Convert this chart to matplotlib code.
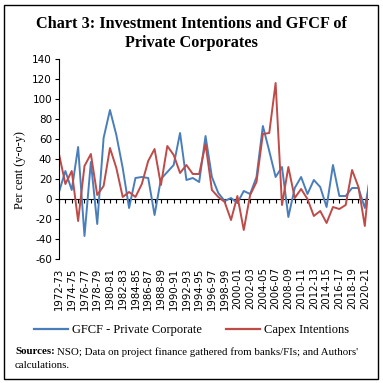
import matplotlib
matplotlib.use('Agg')
import matplotlib.pyplot as plt
from matplotlib.patches import Rectangle
from matplotlib.lines import Line2D

# Data (per cent, y-o-y), 1972-73 to 2021-22
years = [f"{y}-{str(y + 1)[-2:]}" for y in range(1972, 2022)]
gfcf = [7, 28, 9, 52, -37, 37, -25, 61, 89, 64, 31, -9, 21, 22, 21, -16, 20, 27, 34, 66,
        19, 21, 17, 63, 22, 6, -2, 1, -4, 8, 5, 22, 73, 48, 22, 32, -18, 11, 22, 5,
        19, 12, -8, 34, 3, 3, 11, 11, -9, 27]
capex = [45, 15, 28, -22, 33, 45, 4, 13, 51, 31, 2, 7, 2, 15, 38, 50, 14, 53, 44, 26,
         34, 25, 25, 55, 9, 2, -3, -21, 3, -31, 4, 17, 65, 66, 116, -6, 32, 1, 10, 0,
         -17, -12, -24, -8, -10, -6, 29, 12, -27, 39]
yticks = list(range(-60, 141, 20))

blue = '#4a7ebb'
red = '#be4b48'
serif = 'Liberation Serif'

fig = plt.figure(figsize=(3.83, 3.83), dpi=100)
ax = fig.add_axes([59 / 383, 1 - 259 / 383, (368 - 59) / 383, 200 / 383])

x = list(range(len(years)))
ax.plot(x, gfcf, color=blue, lw=1.4, label='GFCF - Private Corporate')
ax.plot(x, capex, color=red, lw=1.4, label='Capex Intentions')

ax.set_xlim(0, 48.5)
ax.set_ylim(-60, 140)
ax.set_yticks(yticks)
ax.set_yticklabels([str(v) for v in yticks], fontsize=7.5, family='DejaVu Sans')
ax.tick_params(axis='y', direction='out', length=3, width=0.8, pad=2)

# x labels at the bottom, every other year
ax.set_xticks(x[::2])
ax.set_xticklabels(years[::2], rotation=90, fontsize=7.3, family='DejaVu Sans')
ax.tick_params(axis='x', length=0, pad=6)

for s in ['top', 'right', 'bottom']:
    ax.spines[s].set_visible(False)
ax.spines['left'].set_linewidth(0.8)

# axis line at zero with tick marks
sec = ax.secondary_xaxis(60 / 200)
sec.set_xticks(x[:49])
sec.set_xticklabels([])
sec.tick_params(direction='out', length=3, width=0.8)
sec.spines['bottom'].set_linewidth(0.8)

fig.text(20 / 383, 1 - 170 / 383, 'Per cent (y-o-y)', rotation=90, ha='center',
         va='center', fontsize=8.8, family=serif)

fig.text(0.5, 1 - 24 / 383, 'Chart 3: Investment Intentions and GFCF of',
         ha='center', va='center', fontsize=11.7, weight='bold', family=serif)
fig.text(0.5, 1 - 43 / 383, 'Private Corporates',
         ha='center', va='center', fontsize=11.7, weight='bold', family=serif)

handles = [Line2D([], [], color=blue, lw=1.6), Line2D([], [], color=red, lw=1.6)]
fig.legend(handles, ['GFCF - Private Corporate', 'Capex Intentions'], ncol=2,
           loc='center', bbox_to_anchor=(0.5, 1 - 330 / 383), frameon=False,
           prop={'family': serif, 'size': 9}, handlelength=2.7, handletextpad=0.3,
           columnspacing=2.0)

t1 = fig.text(15 / 383, 1 - 352 / 383, 'Sources:', fontsize=7.8, weight='bold',
              family=serif, va='center')
fig.canvas.draw()
bb = t1.get_window_extent()
fig.text((bb.x1 + 2) / 383, 1 - 352 / 383,
         "NSO; Data on project finance gathered from banks/FIs; and Authors'",
         fontsize=7.8, family=serif, va='center')
fig.text(15 / 383, 1 - 366 / 383, 'calculations.', fontsize=7.8, family=serif,
         va='center')

fig.patches.append(Rectangle((4 / 383, 4 / 383), 374 / 383, 374 / 383,
                             transform=fig.transFigure, fill=False, lw=1.0,
                             edgecolor='black'))

fig.savefig('out.png', dpi=100)
